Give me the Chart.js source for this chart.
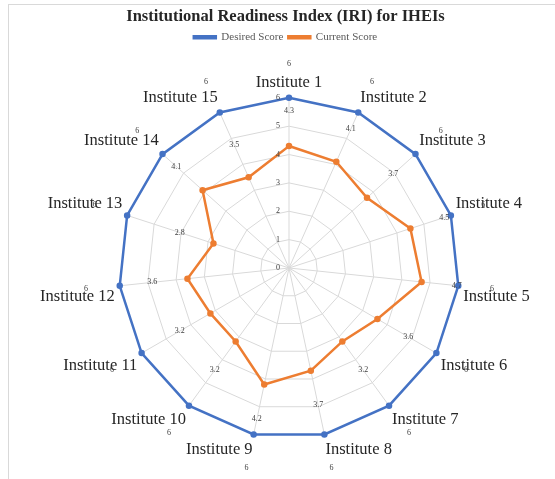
<!DOCTYPE html>
<html>
<head>
<meta charset="utf-8">
<script src="https://cdn.jsdelivr.net/npm/chart.js@4.4.1/dist/chart.umd.min.js"></script>
<style>
  html, body { margin: 0; padding: 0; background: #fff; overflow: hidden; }
  #frame { position: absolute; left: 8px; top: 4px; width: 600px; height: 600px; border: 1px solid #d9d9d9; }
  #wrap { position: absolute; left: 0; top: 0; width: 555px; height: 479px; }
</style>
</head>
<body>
<div id="frame"></div>
<div id="wrap"><canvas id="iri"></canvas></div>
<script>
const institutes = [
  'Institute 1', 'Institute 2', 'Institute 3', 'Institute 4', 'Institute 5',
  'Institute 6', 'Institute 7', 'Institute 8', 'Institute 9', 'Institute 10',
  'Institute 11', 'Institute 12', 'Institute 13', 'Institute 14', 'Institute 15'
];
const desiredScore = [6, 6, 6, 6, 6, 6, 6, 6, 6, 6, 6, 6, 6, 6, 6];
const currentScore = [4.3, 4.1, 3.7, 4.5, 4.7, 3.6, 3.2, 3.7, 4.2, 3.2, 3.2, 3.6, 2.8, 4.1, 3.5];
const scoreTicks = [0, 1, 2, 3, 4, 5, 6];

const serif = '"Liberation Serif", "Times New Roman", serif';

// Excel-style data labels + axis numbers sitting left of the vertical axis
const valueLabels = {
  id: 'valueLabels',
  afterDatasetsDraw(chart) {
    const r = chart.scales.r;
    const ctx = chart.ctx;
    ctx.save();
    ctx.font = '8px ' + serif;
    ctx.fillStyle = '#404040';
    ctx.textAlign = 'center';
    ctx.textBaseline = 'middle';
    scoreTicks.forEach(t => {
      const p = r.getPointPosition(0, r.getDistanceFromCenterForValue(t));
      ctx.fillText(String(t), p.x - 11, p.y);
    });
    chart.data.datasets.forEach(ds => {
      ds.data.forEach((v, i) => {
        const p = r.getPointPosition(i, r.getDistanceFromCenterForValue(v + ds.labelOffset));
        ctx.fillText(String(v), p.x, p.y);
      });
    });
    ctx.restore();
  }
};

new Chart(document.getElementById('iri'), {
  type: 'radar',
  data: {
    labels: institutes,
    datasets: [
      {
        label: 'Desired Score',
        data: desiredScore,
        labelOffset: 1.2,
        borderColor: '#4472C4',
        backgroundColor: '#4472C4',
        pointBackgroundColor: '#4472C4',
        borderWidth: 2.5,
        pointRadius: 2,
        fill: false
      },
      {
        label: 'Current Score',
        data: currentScore,
        labelOffset: 1.25,
        borderColor: '#ED7D31',
        backgroundColor: '#ED7D31',
        pointBackgroundColor: '#ED7D31',
        borderWidth: 2.5,
        pointRadius: 2,
        fill: false
      }
    ]
  },
  options: {
    responsive: true,
    maintainAspectRatio: false,
    animation: false,
    layout: { padding: { left: 32, right: 16, top: 0, bottom: 17 } },
    plugins: {
      title: {
        display: true,
        text: 'Institutional Readiness Index (IRI) for IHEIs',
        color: '#262626',
        font: { family: serif, size: 16.5, weight: 'bold' },
        padding: { top: 7, bottom: 0 }
      },
      // empty spacer between the legend and the plot
      subtitle: {
        display: true,
        text: '',
        weight: 500,
        font: { size: 1 },
        padding: { top: 0, bottom: 17 }
      },
      legend: {
        position: 'top',
        labels: {
          color: '#595959',
          font: { family: serif, size: 11 },
          boxWidth: 22,
          boxHeight: 2,
          padding: 5
        }
      },
      tooltip: { enabled: false }
    },
    scales: {
      r: {
        min: 0,
        max: 6,
        ticks: { display: false, stepSize: 1 },
        grid: { color: '#d9d9d9', lineWidth: 1 },
        angleLines: { color: '#d9d9d9', lineWidth: 1 },
        pointLabels: {
          color: '#262626',
          font: { family: serif, size: 16.5 },
          padding: 5
        }
      }
    }
  },
  plugins: [valueLabels]
});
</script>
</body>
</html>
